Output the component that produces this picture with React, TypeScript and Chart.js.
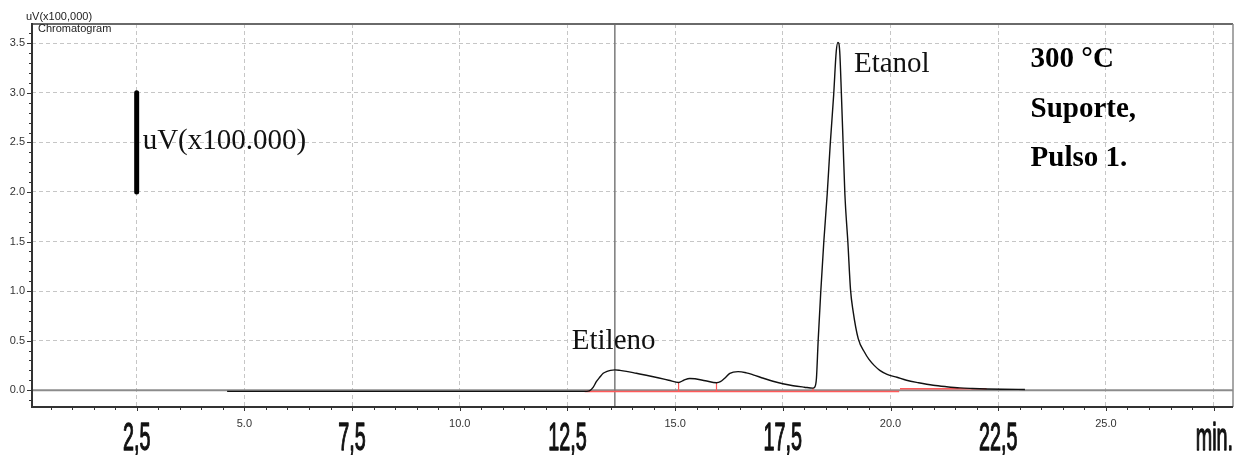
import React, { useEffect, useRef } from "react";
import { Chart, registerables } from "chart.js";

Chart.register(...registerables);

// ---- data ----
const retentionTimes = [
  4.6, 8, 12, 12.95, 13.01, 13.1, 13.17, 13.25, 13.33, 13.42, 13.5, 13.6, 13.72, 13.87, 14.1, 14.33,
  14.6, 14.85, 15.08, 15.2, 15.34, 15.46, 15.7, 15.96, 16.05, 16.15, 16.27, 16.46, 16.65, 16.81,
  17.05, 17.27, 17.5, 17.74, 18.0, 18.2, 18.24, 18.28, 18.32, 18.38, 18.45, 18.53, 18.6, 18.68,
  18.74, 18.78, 18.82, 18.86, 18.9, 18.94, 19.01, 19.07, 19.13, 19.25, 19.4, 19.5, 19.62, 19.75,
  19.92, 20.15, 20.37, 20.65, 20.99, 21.3, 21.61, 21.9, 22.23, 22.6, 23.12,
];
const signal = [
  -0.012, -0.012, -0.012, -0.012, -0.008, 0.03, 0.085, 0.13, 0.17, 0.19, 0.2, 0.205, 0.2, 0.19, 0.17, 0.15,
  0.125, 0.1, 0.077, 0.1, 0.118, 0.115, 0.095, 0.075, 0.085, 0.12, 0.17, 0.187, 0.175, 0.155,
  0.12, 0.09, 0.065, 0.045, 0.03, 0.02, 0.03, 0.12, 0.5, 0.99, 1.49, 1.98, 2.48, 2.98,
  3.42, 3.51, 3.42, 2.98, 2.48, 1.98, 1.49, 1.02, 0.8, 0.52, 0.38, 0.31, 0.25, 0.2,
  0.16, 0.13, 0.1, 0.075, 0.05, 0.035, 0.023, 0.017, 0.012, 0.009, 0.007,
];

// integration baselines (red) and peak split marks
const baselineTimes = [12.9, 20.2, null, 20.22, 22.23];
const baselineValues = [-0.014, -0.014, null, 0.013, 0.013];
const splitTimes = [15.08, 15.96, 18.2];
const splitValues = [0.077, 0.075, 0.02];

const cursorTime = 13.6;
const scaleBarTime = 2.5;
const scaleBarRange = [2.0, 3.0];

const xRange = [0.07, 27.95];
const yRange = [-0.17, 3.695];
const xGridValues = [2.5, 5, 7.5, 10, 12.5, 15, 17.5, 20, 22.5, 25, 27.5];
const yGridValues = [0, 0.5, 1, 1.5, 2, 2.5, 3, 3.5];
const yTickLabels = ["0.0", "0.5", "1.0", "1.5", "2.0", "2.5", "3.0", "3.5"];
const smallXTicks = [5, 10, 15, 20, 25];
const smallXLabels = ["5.0", "10.0", "15.0", "20.0", "25.0"];
const bigXTicks = [2.5, 7.5, 12.5, 17.5, 22.5];
const bigXLabels = ["2,5", "7,5", "12,5", "17,5", "22,5"];

const conditionLines = ["300 °C", "Suporte,", "Pulso 1."];

const overlayPlugin = {
  id: "overlay",
  afterDatasetsDraw(chart: any) {
    const { ctx, chartArea: a, scales } = chart;
    const x = scales.x;
    const y = scales.y;
    const line = (x1: number, y1: number, x2: number, y2: number) => {
      ctx.beginPath();
      ctx.moveTo(x1, y1);
      ctx.lineTo(x2, y2);
      ctx.stroke();
    };
    ctx.save();
    // frame
    ctx.lineCap = "butt";
    ctx.strokeStyle = "#6a6a6a";
    ctx.lineWidth = 2;
    line(a.left, a.top, a.right, a.top);
    ctx.strokeStyle = "#8a8a8a";
    ctx.lineWidth = 1.5;
    line(a.right, a.top, a.right, a.bottom);
    ctx.strokeStyle = "#333";
    ctx.lineWidth = 2;
    line(a.left, a.top - 1, a.left, a.bottom + 1);
    line(a.left, a.bottom, a.right, a.bottom);

    // y ticks
    ctx.lineWidth = 1;
    for (let i = -1; i <= 36; i++) {
      const py = Math.round(y.getPixelForValue(i / 10)) + 0.5;
      const major = i % 5 === 0;
      line(a.left - (major ? 5 : 3), py, a.left, py);
    }
    // x ticks
    for (let i = 1; i <= 55; i++) {
      const px = Math.round(x.getPixelForValue(i / 2)) + 0.5;
      const major = i % 5 === 0;
      line(px, a.bottom, px, a.bottom + (major ? 4 : 3));
    }

    // small axis labels
    ctx.fillStyle = "#333";
    ctx.font = "11px 'Liberation Sans', Arial, sans-serif";
    ctx.textAlign = "right";
    ctx.textBaseline = "middle";
    yGridValues.forEach((v, i) => {
      ctx.fillText(yTickLabels[i], a.left - 7, y.getPixelForValue(v));
    });
    ctx.textAlign = "center";
    ctx.textBaseline = "alphabetic";
    smallXTicks.forEach((t, i) => {
      ctx.fillText(smallXLabels[i], x.getPixelForValue(t), a.bottom + 20);
    });
    ctx.textAlign = "left";
    ctx.fillStyle = "#222";
    ctx.fillText("uV(x100,000)", a.left - 6, a.top - 4);
    ctx.fillText("Chromatogram", a.left + 6, a.top + 8);

    // big condensed labels
    ctx.fillStyle = "#111";
    ctx.strokeStyle = "#111";
    ctx.lineWidth = 1.3;
    ctx.lineJoin = "round";
    ctx.font = "38px 'Liberation Sans', Arial, sans-serif";
    ctx.textAlign = "center";
    const drawCondensed = (text: string, px: number, py: number, align: string) => {
      ctx.save();
      ctx.translate(px, py);
      ctx.scale(0.52, 1);
      ctx.textAlign = align;
      ctx.fillText(text, 0, 0);
      ctx.strokeText(text, 0, 0);
      ctx.restore();
    };
    bigXTicks.forEach((t, i) => {
      drawCondensed(bigXLabels[i], x.getPixelForValue(t), 450, "center");
    });
    drawCondensed("min.", a.right, 450, "right");

    // annotations
    ctx.fillStyle = "#111";
    ctx.textAlign = "left";
    ctx.font = "29px 'Liberation Serif', 'Times New Roman', serif";
    ctx.fillText("uV(x100.000)", x.getPixelForValue(scaleBarTime) + 6, y.getPixelForValue(2.43));
    ctx.fillText("Etileno", x.getPixelForValue(12.6), y.getPixelForValue(0.415));
    ctx.fillText("Etanol", x.getPixelForValue(19.15), y.getPixelForValue(3.214));
    ctx.fillStyle = "#000";
    ctx.font = "bold 29px 'Liberation Serif', 'Times New Roman', serif";
    const condX = x.getPixelForValue(23.25);
    conditionLines.forEach((s, i) => {
      ctx.fillText(s, condX, y.getPixelForValue(3.26 - i * 0.5));
    });
    ctx.restore();
  },
};

export default function App() {
  const canvasRef = useRef<HTMLCanvasElement | null>(null);

  useEffect(() => {
    const canvas = canvasRef.current;
    if (!canvas) return;
    const trace = retentionTimes.map((t, i) => ({ x: t, y: signal[i] }));
    const baseline = baselineTimes.map((t, i) =>
      t === null ? { x: NaN, y: NaN } : { x: t, y: baselineValues[i] as number }
    );
    const splits: any[] = [];
    splitTimes.forEach((t, i) => {
      splits.push({ x: t, y: baselineValues[0] });
      splits.push({ x: t, y: splitValues[i] });
      splits.push({ x: NaN, y: NaN });
    });

    const chart = new Chart(canvas, {
      type: "line",
      data: {
        datasets: [
          {
            label: "trace",
            data: trace,
            borderColor: "#111",
            borderWidth: 1.4,
            pointRadius: 0,
            cubicInterpolationMode: "monotone",
            order: 0,
          },
          {
            label: "baseline",
            data: baseline,
            borderColor: "#ff5a5a",
            borderWidth: 1.5,
            pointRadius: 0,
            spanGaps: false,
            order: 1,
          },
          {
            label: "splits",
            data: splits,
            borderColor: "#ff5a5a",
            borderWidth: 1.2,
            pointRadius: 0,
            spanGaps: false,
            order: 1,
          },
          {
            label: "zero",
            data: [
              { x: xRange[0], y: 0 },
              { x: xRange[1], y: 0 },
            ],
            borderColor: "#8c8c8c",
            borderWidth: 2,
            pointRadius: 0,
            order: 3,
          },
          {
            label: "cursor",
            data: [
              { x: cursorTime, y: yRange[0] },
              { x: cursorTime, y: yRange[1] },
            ],
            borderColor: "#7a7a7a",
            borderWidth: 1.5,
            pointRadius: 0,
            order: 2,
          },
          {
            label: "scalebar",
            data: [
              { x: scaleBarTime, y: scaleBarRange[0] },
              { x: scaleBarTime, y: scaleBarRange[1] },
            ],
            borderColor: "#000",
            borderWidth: 5,
            borderCapStyle: "round",
            pointRadius: 0,
            order: 0,
          },
        ],
      },
      options: {
        animation: false,
        responsive: false,
        maintainAspectRatio: false,
        events: [],
        layout: { padding: { left: 32, top: 24, right: 5, bottom: 48 } },
        plugins: { legend: { display: false }, tooltip: { enabled: false } },
        scales: {
          x: {
            type: "linear",
            min: xRange[0],
            max: xRange[1],
            ticks: { display: false },
            grid: { color: "#c6c6c6", lineWidth: 1, drawTicks: false },
            border: { display: false, dash: [4, 3] },
            afterBuildTicks: (s: any) => {
              s.ticks = xGridValues.map((v) => ({ value: v }));
            },
            afterFit: (s: any) => {
              s.height = 0;
            },
          },
          y: {
            type: "linear",
            min: yRange[0],
            max: yRange[1],
            ticks: { display: false },
            grid: { color: "#c6c6c6", lineWidth: 1, drawTicks: false },
            border: { display: false, dash: [4, 3] },
            afterBuildTicks: (s: any) => {
              s.ticks = yGridValues.map((v) => ({ value: v }));
            },
            afterFit: (s: any) => {
              s.width = 0;
            },
          },
        },
      } as any,
      plugins: [overlayPlugin],
    });
    return () => chart.destroy();
  }, []);

  return (
    <div style={{ position: "absolute", left: 0, top: 0, width: 1238, height: 455, background: "#fff" }}>
      <canvas ref={canvasRef} width={1238} height={455} style={{ display: "block" }} />
    </div>
  );
}
